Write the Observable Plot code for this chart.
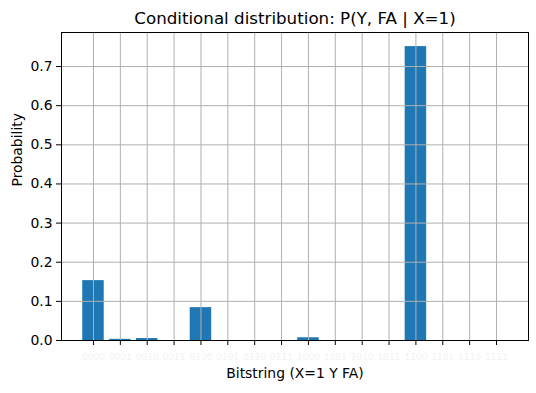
<!DOCTYPE html>
<html>
<head>
<meta charset="utf-8">
<script src="https://cdn.jsdelivr.net/npm/d3@7"></script>
<script src="https://cdn.jsdelivr.net/npm/@observablehq/plot@0.6"></script>
<style>
  html, body { margin: 0; padding: 0; background: #fff; }
  svg { font-family: "DejaVu Sans", sans-serif; }
</style>
</head>
<body>
<div id="chart"></div>
<script>
const bitstrings = ["0000","0001","0010","0011","0100","0101","0110","0111",
                    "1000","1001","1010","1011","1100","1101","1110","1111"];
const probabilities = [0.153, 0.003, 0.005, 0, 0.084, 0, 0, 0,
                       0.007, 0, 0, 0, 0.751, 0, 0, 0];
const yTicks = [0, 0.1, 0.2, 0.3, 0.4, 0.5, 0.6, 0.7];
const titleText = "Conditional distribution: P(Y, FA | X=1)";
const xLabel = "Bitstring (X=1 Y FA)";
const yLabel = "Probability";

const data = bitstrings.map((b, i) => ({bits: b, p: probabilities[i]}));

const chart = Plot.plot({
  width: 536,
  height: 393,
  marginLeft: 61,
  marginRight: 8,
  marginTop: 32,
  marginBottom: 53,
  style: {fontFamily: "DejaVu Sans, sans-serif", fontSize: "13.9px", color: "black", background: "white"},
  x: {type: "band", domain: bitstrings, paddingInner: 0.2, paddingOuter: 0.79, round: false, label: null},
  y: {domain: [0, 0.787], label: null},
  marks: [
    Plot.barY(data, {x: "bits", y: "p", fill: "#1f77b4"}),
    Plot.gridX(bitstrings, {stroke: "#b0b0b0", strokeOpacity: 1, strokeWidth: 1}),
    Plot.gridY(yTicks, {stroke: "#b0b0b0", strokeOpacity: 1, strokeWidth: 1}),
    Plot.frame({stroke: "black", strokeWidth: 1}),
    Plot.axisX({tickSize: 5, tickPadding: 8, stroke: "black", fill: "#f3f3f3", label: null, fontSize: 9}),
    Plot.axisY(yTicks, {tickSize: 5, tickPadding: 4, stroke: "black", fill: "black",
                        tickFormat: d3.format(".1f"), label: null, fontSize: 13.9}),
    Plot.text([titleText], {frameAnchor: "top", dy: -20, fontSize: 16.7, fill: "black"}),
    Plot.text([xLabel], {frameAnchor: "bottom", dy: 37, fontSize: 13.9, fill: "black"}),
    Plot.text([yLabel], {frameAnchor: "left", dx: -44, rotate: -90, fontSize: 13.9, fill: "black"})
  ]
});
document.getElementById("chart").appendChild(chart);
</script>
</body>
</html>
